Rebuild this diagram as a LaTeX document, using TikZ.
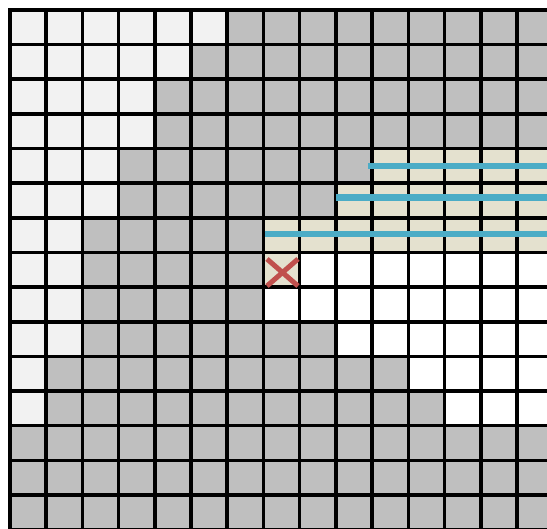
\documentclass[tikz,border=0pt]{standalone}
\definecolor{cellgray}{HTML}{BFBFBF}
\definecolor{celllight}{HTML}{F2F2F2}
\definecolor{cellbeige}{HTML}{E4E1CF}
\definecolor{pathblue}{HTML}{4BACC6}
\definecolor{markred}{HTML}{C0504D}
\tikzset{
  gridline/.style={line width=3.6pt, black, line cap=rect},
  blueline/.style={line width=6.5pt, pathblue},
  crossmark/.style={line width=5pt, markred},
}
\begin{document}
\begin{tikzpicture}[x=1pt,y=-1pt]
\useasboundingbox (0,0) rectangle (547,529);
\fill[white] (0,0) rectangle (547,529);
\clip (0,0) rectangle (547,529);
\begin{scope}[shift={(10pt,-10pt)}, x=36.21pt, y=-34.64pt]
  % base gray
  \fill[cellgray] (0,0) rectangle (15,15);
  % light staircase
  \fill[celllight] (0,0) -- (6,0) -- (6,1) -- (5,1) -- (5,2) -- (4,2) -- (4,4) -- (3,4) -- (3,6) -- (2,6) -- (2,10) -- (1,10) -- (1,12) -- (0,12) -- cycle;
  % beige band
  \fill[cellbeige] (10,4) -- (15,4) -- (15,7) -- (8,7) -- (8,8) -- (7,8) -- (7,6) -- (9,6) -- (9,5) -- (10,5) -- cycle;
  % white region
  \fill[white] (8,7) -- (15,7) -- (15,12) -- (12,12) -- (12,11) -- (11,11) -- (11,10) -- (9,10) -- (9,9) -- (7,9) -- (7,8) -- (8,8) -- cycle;
  % grid
  \foreach \i in {0,...,15} {
    \draw[gridline] (\i,0) -- (\i,15);
    \draw[gridline] (0,\i) -- (15,\i);
  }
\end{scope}
% blue lines
\coordinate (b1s) at (368,166);   \coordinate (b1e) at (560,166);
\coordinate (b2s) at (336,197.7); \coordinate (b2e) at (560,197.7);
\coordinate (b3s) at (264.5,234); \coordinate (b3e) at (560,234);
\draw[blueline] (b1s) -- (b1e);
\draw[blueline] (b2s) -- (b2e);
\draw[blueline] (b3s) -- (b3e);
% red cross
\coordinate (x1) at (267,259);
\coordinate (x2) at (298,286);
\coordinate (x3) at (267,286);
\coordinate (x4) at (298,259);
\draw[crossmark] (x1) -- (x2);
\draw[crossmark] (x3) -- (x4);
\end{tikzpicture}
\end{document}
